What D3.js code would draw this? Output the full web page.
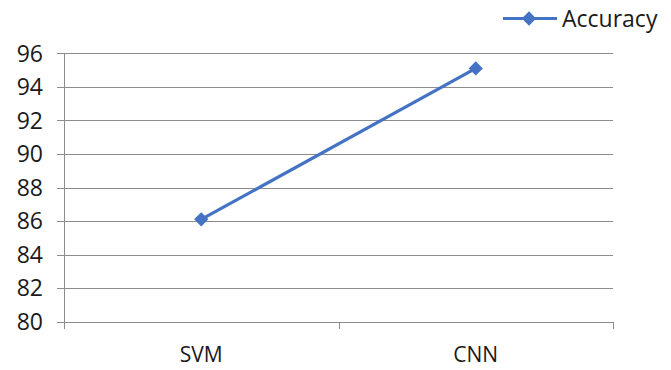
<!DOCTYPE html>
<html>
<head>
<meta charset="utf-8">
<script src="https://cdn.jsdelivr.net/npm/d3@7"></script>
<style>
  html, body { margin: 0; padding: 0; background: #fff; }
  svg text { font-family: "Open Sans", "Noto Sans", sans-serif; fill: #1a1a1a; }
</style>
</head>
<body>
<svg id="chart" width="671" height="370"></svg>
<script>
// Accuracy per model
const categories = ["SVM", "CNN"];
const accuracy = [86.1, 95.1];
const yTicks = [80, 82, 84, 86, 88, 90, 92, 94, 96];
const seriesName = "Accuracy";

const svg = d3.select("#chart");
const plot = { left: 64, right: 613, top: 53.3, bottom: 321.7 };
const lineColor = "#4472C4";

const x = d3.scaleBand().domain(categories).range([plot.left, plot.right]);
const y = d3.scaleLinear().domain([80, 96]).range([plot.bottom, plot.top]);

// horizontal gridlines (with small tick stubs left of the axis)
svg.append("g").selectAll("line").data(yTicks).join("line")
  .attr("x1", plot.left - 7).attr("x2", plot.right)
  .attr("y1", d => Math.round(y(d)) + 0.5).attr("y2", d => Math.round(y(d)) + 0.5)
  .attr("stroke", "#8c8c8c").attr("stroke-width", 1);

// y axis line
svg.append("line")
  .attr("x1", plot.left + 0.5).attr("x2", plot.left + 0.5)
  .attr("y1", plot.top).attr("y2", plot.bottom + 7)
  .attr("stroke", "#8c8c8c").attr("stroke-width", 1);

// x axis category boundary ticks
const bounds = [plot.left, ...categories.slice(1).map(c => x(c)), plot.right];
svg.append("g").selectAll("line").data(bounds).join("line")
  .attr("x1", d => Math.round(d) + 0.5).attr("x2", d => Math.round(d) + 0.5)
  .attr("y1", Math.round(plot.bottom)).attr("y2", Math.round(plot.bottom) + 7)
  .attr("stroke", "#8c8c8c").attr("stroke-width", 1);

// y tick labels
svg.append("g").selectAll("text").data(yTicks).join("text")
  .attr("x", 43).attr("y", d => y(d)).attr("dy", "0.36em")
  .attr("text-anchor", "end").attr("font-size", 23)
  .text(d => d);

// x category labels
svg.append("g").selectAll("text").data(categories).join("text")
  .attr("x", d => x(d) + x.bandwidth() / 2).attr("y", 362)
  .attr("text-anchor", "middle").attr("font-size", 21)
  .text(d => d);

// series line
const pts = categories.map((c, i) => [x(c) + x.bandwidth() / 2, y(accuracy[i])]);
svg.append("path")
  .attr("d", d3.line()(pts))
  .attr("fill", "none").attr("stroke", lineColor).attr("stroke-width", 3.2);

// diamond markers
const diamond = d3.symbol().type(d3.symbolDiamond2).size(130);
svg.append("g").selectAll("path").data(pts).join("path")
  .attr("transform", d => `translate(${d[0]},${d[1]})`)
  .attr("d", diamond).attr("fill", lineColor);

// legend
const lg = svg.append("g").attr("transform", "translate(503,18.5)");
lg.append("line").attr("x1", 0).attr("x2", 54).attr("y1", 0).attr("y2", 0)
  .attr("stroke", lineColor).attr("stroke-width", 3.2);
lg.append("path").attr("transform", "translate(26,0)").attr("d", diamond).attr("fill", lineColor);
lg.append("text").attr("x", 59).attr("y", 0).attr("dy", "0.36em")
  .attr("font-size", 23).text(seriesName);
</script>
</body>
</html>
